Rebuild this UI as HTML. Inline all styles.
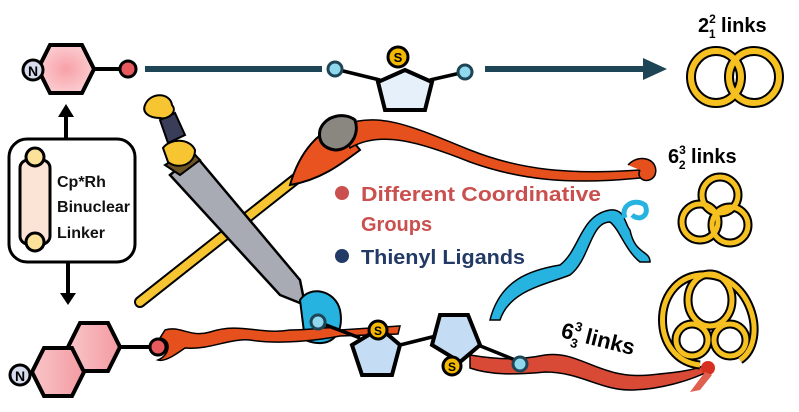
<!DOCTYPE html>
<html><head><meta charset="utf-8"><style>
html,body{margin:0;padding:0;background:#fff;}
svg{display:block;font-family:"Liberation Sans",sans-serif;}
</style></head><body>
<svg width="799" height="412" viewBox="0 0 799 412" xmlns="http://www.w3.org/2000/svg">
<defs>
<radialGradient id="pk" cx="50%" cy="50%" r="60%"><stop offset="0" stop-color="#f8a0a8"/><stop offset="1" stop-color="#fbd4d6"/></radialGradient>
<linearGradient id="pk2" x1="0" x2="1"><stop offset="0" stop-color="#f8c6c8"/><stop offset="1" stop-color="#f49aa2"/></linearGradient>
</defs>
<rect x="145" y="66" width="177" height="6" fill="#1e4556"/>
<rect x="485" y="66" width="160" height="6" fill="#1e4556"/>
<polygon points="643,58 667,69 643,80" fill="#1e4556"/>
<line x1="92" y1="69" x2="128" y2="69" stroke="#000" stroke-width="4"/>
<polygon points="50,45 82,45 94,69 82,93 50,93 38,69" fill="url(#pk)" stroke="#000" stroke-width="4"/>
<circle cx="33" cy="70" r="10" fill="#d7dcec" stroke="#000" stroke-width="3"/>
<text x="33" y="76" font-size="14" font-weight="bold" text-anchor="middle">N</text>
<circle cx="128" cy="69" r="8" fill="#e85a5e" stroke="#000" stroke-width="3"/>
<line x1="335" y1="69" x2="380" y2="80" stroke="#000" stroke-width="3.5"/>
<line x1="465" y1="72" x2="430" y2="80" stroke="#000" stroke-width="3.5"/>
<polygon points="405,70 432,82 425,110 385,110 378,82" fill="#e6f0fa" stroke="#000" stroke-width="4"/>
<circle cx="335" cy="69" r="7" fill="#8fd8ee" stroke="#1e4556" stroke-width="3"/>
<circle cx="465" cy="72" r="7" fill="#8fd8ee" stroke="#1e4556" stroke-width="3"/>
<circle cx="398" cy="57" r="10" fill="#f5b800" stroke="#000" stroke-width="3"/>
<text x="398" y="62" font-size="13" font-weight="bold" text-anchor="middle">S</text>
<line x1="66" y1="138" x2="66" y2="115" stroke="#000" stroke-width="4"/>
<polygon points="58,117 66,104 74,117" fill="#000"/>
<line x1="68" y1="262" x2="68" y2="296" stroke="#000" stroke-width="4"/>
<polygon points="60,293 68,305 76,293" fill="#000"/>
<rect x="9" y="139" width="126" height="123" rx="18" fill="#fff" stroke="#000" stroke-width="3"/>
<rect x="20" y="160" width="30" height="84" rx="8" fill="#fbe3d6" stroke="#000" stroke-width="3"/>
<circle cx="35" cy="157" r="9" fill="#fbe19a" stroke="#000" stroke-width="3"/>
<circle cx="35" cy="242" r="9" fill="#fbe19a" stroke="#000" stroke-width="3"/>
<text font-size="16" font-weight="bold" fill="#111"><tspan x="57" y="187">Cp*Rh</tspan><tspan x="57" y="212" textLength="73" lengthAdjust="spacingAndGlyphs">Binuclear</tspan><tspan x="57" y="238">Linker</tspan></text>
<line x1="140" y1="302" x2="345" y2="140" stroke="#000" stroke-width="12" stroke-linecap="round"/>
<line x1="140" y1="302" x2="345" y2="140" stroke="#f7c531" stroke-width="8" stroke-linecap="round"/>
<path d="M290,185 C300,150 320,130 340,125 L360,150 C340,165 320,180 290,185 Z" fill="#e9531f" stroke="#000" stroke-width="2"/>
<path d="M345,125 C380,110 420,130 470,150 C520,170 570,175 640,170 L640,178 C570,185 520,180 470,162 C420,142 380,130 350,148 Z" fill="#e6501c" stroke="#000" stroke-width="1.5"/>
<path d="M320,130 C325,115 345,112 355,120 C360,135 350,150 335,150 C322,148 318,140 320,130 Z" fill="#8a8680" stroke="#000" stroke-width="3"/>
<path d="M628,165 C640,152 660,160 655,175 C650,185 635,180 640,170" fill="#e6501c" stroke="#000" stroke-width="1.5"/>
<polygon points="170,175 195,155 300,280 305,305 280,295" fill="#a8aab4" stroke="#000" stroke-width="2.5"/>
<polygon points="165,165 190,150 200,160 180,175" fill="#6a5424" stroke="#000" stroke-width="2"/>
<path d="M163,148 C170,138 190,138 195,150 C195,165 178,170 168,162 Z" fill="#f7c531" stroke="#000" stroke-width="2"/>
<polygon points="160,120 175,113 185,135 168,143" fill="#3a3d58" stroke="#000" stroke-width="2"/>
<path d="M145,105 C150,92 170,92 172,105 C178,112 168,120 160,118 C148,118 142,112 145,105 Z" fill="#f7c531" stroke="#000" stroke-width="2"/>
<path d="M300,300 C310,285 335,290 340,310 C345,335 330,350 305,340 Z" fill="#27b3e0" stroke="#000" stroke-width="2"/>
<path d="M490,320 C500,280 530,270 560,265 C580,250 580,215 610,210 C625,208 625,225 630,230 C635,255 650,250 650,262 L640,262 C625,250 620,230 610,222 C590,222 590,260 570,275 C545,285 510,290 500,320 Z" fill="#27b3e0" stroke="#000" stroke-width="1.5"/>
<path d="M625,218 C620,205 635,198 645,205 C650,215 640,222 632,215" fill="none" stroke="#27b3e0" stroke-width="5"/>
<circle cx="342" cy="193" r="7" fill="#c9504f"/>
<text x="361" y="201" font-size="20" font-weight="bold" fill="#c9504f" textLength="240" lengthAdjust="spacingAndGlyphs">Different Coordinative</text>
<text x="361" y="231" font-size="20" font-weight="bold" fill="#c9504f">Groups</text>
<circle cx="342" cy="256" r="7" fill="#233a66"/>
<text x="361" y="264" font-size="20" font-weight="bold" fill="#233a66" textLength="164" lengthAdjust="spacingAndGlyphs">Thienyl Ligands</text>
<line x1="118" y1="347" x2="158" y2="347" stroke="#000" stroke-width="4"/>
<polygon points="80,323 108,323 120,347 108,371 80,371 68,347" fill="url(#pk2)" stroke="#000" stroke-width="4"/>
<polygon points="44,348 72,348 84,372 72,396 44,396 32,372" fill="url(#pk2)" stroke="#000" stroke-width="4"/>
<circle cx="20" cy="375" r="10" fill="#d7dcec" stroke="#000" stroke-width="3"/>
<text x="20" y="381" font-size="14" font-weight="bold" text-anchor="middle">N</text>
<path d="M165,330 C180,325 190,338 210,332 C240,322 260,335 290,330 C320,330 330,325 340,330 L400,326 L398,334 L340,336 C320,340 280,345 250,340 C230,338 210,350 185,348 C175,355 165,362 158,360 C170,355 172,340 160,338 Z" fill="#e6501c" stroke="#000" stroke-width="1.5"/>
<path d="M470,355 C500,360 520,360 545,355 C580,350 600,380 650,375 C680,372 695,370 705,365 L705,373 C690,380 660,390 630,390 C600,390 580,372 545,372 C515,375 490,375 470,368 Z" fill="#d84a36" stroke="#000" stroke-width="1.5"/>
<circle cx="708" cy="368" r="7" fill="#d83020"/>
<path d="M705,372 L690,392 L700,390 L712,375 Z" fill="#e06050"/>
<line x1="318" y1="322" x2="360" y2="338" stroke="#000" stroke-width="3.5"/>
<line x1="400" y1="345" x2="440" y2="335" stroke="#000" stroke-width="3.5"/>
<line x1="478" y1="345" x2="520" y2="362" stroke="#000" stroke-width="3.5"/>
<polygon points="380,328 400,345 392,375 362,375 352,345" fill="#c5ddf4" stroke="#000" stroke-width="4"/>
<polygon points="440,315 468,315 480,345 460,362 432,345" fill="#c5ddf4" stroke="#000" stroke-width="4"/>
<circle cx="318" cy="322" r="7" fill="#8fd8ee" stroke="#1e4556" stroke-width="3"/>
<circle cx="520" cy="364" r="7" fill="#8fd8ee" stroke="#1e4556" stroke-width="3"/>
<circle cx="378" cy="330" r="9" fill="#f5b800" stroke="#000" stroke-width="3"/>
<text x="378" y="335" font-size="12" font-weight="bold" text-anchor="middle">S</text>
<circle cx="452" cy="366" r="9" fill="#f5b800" stroke="#000" stroke-width="3"/>
<text x="452" y="371" font-size="12" font-weight="bold" text-anchor="middle">S</text>
<circle cx="158" cy="347" r="8" fill="#e85a5e" stroke="#000" stroke-width="3"/>
<text x="698" y="32" font-size="20" font-weight="bold">2<tspan font-size="12" dy="-9">2</tspan><tspan font-size="12" dx="-7" dy="15">1</tspan><tspan dy="-6"> links</tspan></text>
<text x="668" y="163" font-size="20" font-weight="bold">6<tspan font-size="12" dy="-9">3</tspan><tspan font-size="12" dx="-7" dy="15">2</tspan><tspan dy="-6"> links</tspan></text>
<text transform="translate(560,337) rotate(14)" font-size="22" font-weight="bold">6<tspan font-size="13" dy="-10">3</tspan><tspan font-size="13" dx="-8" dy="17">3</tspan><tspan dy="-7"> links</tspan></text>
<g fill="none" stroke="#000" stroke-width="10">
<ellipse cx="716" cy="77" rx="25" ry="26"/><ellipse cx="754" cy="77" rx="25" ry="26"/>
</g>
<g fill="none" stroke="#f5c020" stroke-width="6">
<ellipse cx="716" cy="77" rx="25" ry="26"/><ellipse cx="754" cy="77" rx="25" ry="26"/>
</g>
<g fill="none" stroke="#000" stroke-width="9">
<circle cx="720" cy="195" r="18"/><circle cx="700" cy="222" r="18"/><circle cx="730" cy="225" r="18"/>
</g>
<g fill="none" stroke="#f5c020" stroke-width="5">
<circle cx="720" cy="195" r="18"/><circle cx="700" cy="222" r="18"/><circle cx="730" cy="225" r="18"/>
</g>
<g fill="none" stroke="#000" stroke-width="9">
<path d="M700,365 C650,360 650,280 700,275 C750,270 770,340 740,360"/>
<ellipse cx="710" cy="300" rx="22" ry="26"/>
<circle cx="692" cy="340" r="16"/><circle cx="730" cy="340" r="16"/>
</g>
<g fill="none" stroke="#f5c020" stroke-width="5">
<path d="M700,365 C650,360 650,280 700,275 C750,270 770,340 740,360"/>
<ellipse cx="710" cy="300" rx="22" ry="26"/>
<circle cx="692" cy="340" r="16"/><circle cx="730" cy="340" r="16"/>
</g>
</svg>
</body></html>
